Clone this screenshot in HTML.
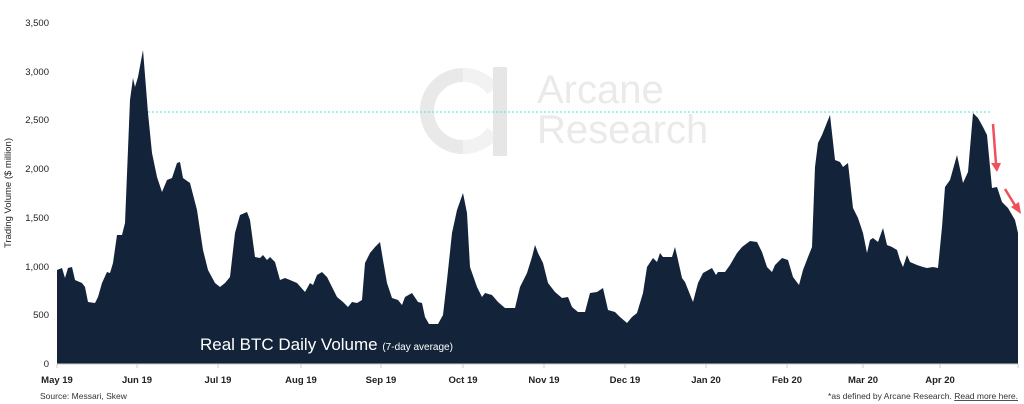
<!DOCTYPE html>
<html><head><meta charset="utf-8"><style>
body{margin:0;background:#fff;width:1024px;height:404px;overflow:hidden}
svg{display:block;font-family:"Liberation Sans",sans-serif}
</style></head><body>
<svg width="1024" height="404" viewBox="0 0 1024 404">
<g>
<path d="M463 75 A36 36 0 1 0 463 147" fill="none" stroke="#e9e9e9" stroke-width="14"/>
<path d="M463 75 A36 36 0 0 1 493 90 M463 147 A36 36 0 0 0 493 132" fill="none" stroke="#f2f2f2" stroke-width="14"/>
<rect x="493" y="67" width="14" height="89" fill="#e6e6e6"/>
<text x="537" y="103" font-size="40" fill="#eaeaea">Arcane</text>
<text x="537" y="143" font-size="40" fill="#eaeaea">Research</text>
</g>
<line x1="148" y1="112" x2="990" y2="112" stroke="#4fe0e6" stroke-width="1" stroke-dasharray="2,2"/>
<polygon fill="#13243a" points="57,364 57,270 62,268 65,278 68,268 72,267 75,280 82,283 85,287 88,302 95,303 98,297 102,283 107,272 110,273 113,263 117,235 122,235 125,223 130,100 133,78 135,87 138,77 143,50 148,113 152,153 157,177 162,192 167,180 172,178 177,163 180,162 183,178 190,183 197,210 203,250 208,270 215,283 220,287 225,283 230,277 235,233 240,215 247,212 250,220 255,257 260,258 263,255 267,260 270,257 275,262 280,280 285,278 290,280 297,283 305,292 310,283 313,285 317,275 322,272 327,277 332,287 337,297 343,302 348,307 352,302 357,303 362,300 365,263 370,253 375,247 380,242 383,260 387,283 392,298 398,300 402,305 405,297 412,293 418,302 422,303 425,317 429,324 438,324 443,315 447,280 452,233 457,210 463,193 467,213 470,267 477,287 482,297 485,293 492,295 498,302 505,308 515,308 520,287 527,273 532,257 535,245 538,253 543,263 548,283 555,292 562,298 568,297 572,307 578,312 585,312 590,293 597,292 603,288 608,310 615,312 620,317 627,323 632,317 637,313 643,293 647,267 653,258 657,262 660,253 663,257 672,257 675,247 678,260 682,278 685,282 693,302 698,283 703,273 712,268 716,275 718,272 725,272 730,265 737,253 742,247 750,241 757,242 762,252 767,267 772,272 775,265 782,258 788,260 793,277 799,285 803,270 808,257 812,247 815,167 818,143 822,135 830,115 835,160 840,162 843,167 848,163 853,208 858,218 863,233 867,253 870,240 873,238 878,242 883,228 887,245 892,247 897,250 900,260 903,267 907,255 910,262 917,265 923,267 927,268 933,267 938,268 942,227 945,187 950,180 957,155 963,183 968,172 973,113 978,118 983,127 987,135 992,188 997,187 1002,202 1008,208 1015,220 1018,233 1018,364"/>
<g stroke="#f0505a" stroke-width="2.5" fill="#f0505a">
<line x1="993" y1="124" x2="996" y2="164"/>
<polygon points="991,163 1001,163 997,172" stroke="none"/>
<line x1="1005" y1="189" x2="1016" y2="207"/>
<polygon points="1011,207 1019,202 1021,214" stroke="none"/>
</g>
<line x1="57" y1="364" x2="1018" y2="364" stroke="#ccc" stroke-width="1"/>
<g stroke="#ccc">
<line x1="57" y1="364" x2="57" y2="368"/><line x1="137" y1="364" x2="137" y2="368"/><line x1="218" y1="364" x2="218" y2="368"/><line x1="301" y1="364" x2="301" y2="368"/><line x1="381" y1="364" x2="381" y2="368"/><line x1="463" y1="364" x2="463" y2="368"/><line x1="544" y1="364" x2="544" y2="368"/><line x1="625" y1="364" x2="625" y2="368"/><line x1="706" y1="364" x2="706" y2="368"/><line x1="787" y1="364" x2="787" y2="368"/><line x1="863" y1="364" x2="863" y2="368"/><line x1="940" y1="364" x2="940" y2="368"/><line x1="1018" y1="364" x2="1018" y2="368"/>
</g>
<text x="200" y="350" font-size="17" fill="#fff">Real BTC Daily Volume <tspan font-size="10">(7-day average)</tspan></text>
<g font-size="9.5" fill="#222" text-anchor="end">
<text x="49" y="367">0</text><text x="49" y="318">500</text><text x="49" y="270">1,000</text><text x="49" y="221">1,500</text><text x="49" y="172">2,000</text><text x="49" y="123">2,500</text><text x="49" y="75">3,000</text><text x="49" y="26">3,500</text>
</g>
<text transform="translate(11,193) rotate(-90)" font-size="9.5" fill="#222" text-anchor="middle">Trading Volume ($ million)</text>
<g font-size="9.5" fill="#222" font-weight="bold" text-anchor="middle">
<text x="57" y="383">May 19</text><text x="137" y="383">Jun 19</text><text x="218" y="383">Jul 19</text><text x="301" y="383">Aug 19</text><text x="381" y="383">Sep 19</text><text x="463" y="383">Oct 19</text><text x="544" y="383">Nov 19</text><text x="625" y="383">Dec 19</text><text x="706" y="383">Jan 20</text><text x="787" y="383">Feb 20</text><text x="863" y="383">Mar 20</text><text x="940" y="383">Apr 20</text>
</g>
<text x="40" y="399" font-size="8.5" fill="#333">Source: Messari, Skew</text>
<text x="1018" y="399" font-size="8.5" fill="#333" text-anchor="end">*as defined by Arcane Research. <tspan text-decoration="underline">Read more here.</tspan></text>
</svg>
</body></html>
